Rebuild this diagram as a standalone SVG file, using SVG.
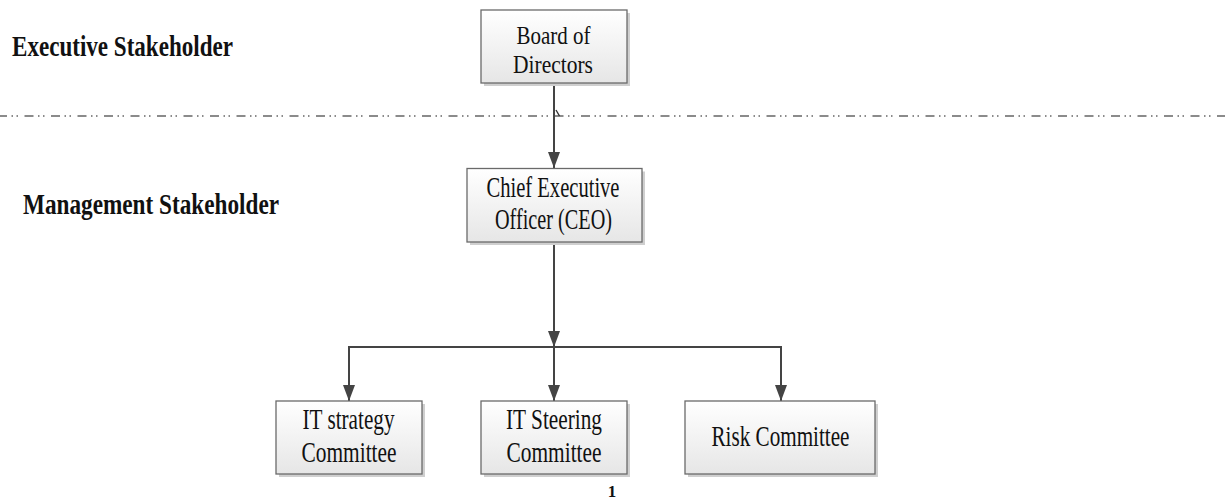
<svg xmlns="http://www.w3.org/2000/svg" width="1225" height="500" viewBox="0 0 1225 500">
<defs>
<linearGradient id="boxfill" x1="0" y1="0" x2="0" y2="1">
<stop offset="0" stop-color="#ffffff"/>
<stop offset="1" stop-color="#e6e6e6"/>
</linearGradient>
<marker id="arrow" viewBox="0 0 16 12" refX="16" refY="6" markerWidth="16" markerHeight="12" markerUnits="userSpaceOnUse" orient="auto">
<path d="M0,0 L16,6 L0,12 Z" fill="#444444"/>
</marker>
</defs>
<style>
.box{fill:url(#boxfill);stroke:#6a6a6a;stroke-width:1.3}
.shadow{fill:#cfcfcf}
.lbl{font-family:"Liberation Serif","Times New Roman",serif;font-size:29px;fill:#111;text-anchor:start}
.head{font-family:"Liberation Serif","Times New Roman",serif;font-size:29px;font-weight:bold;fill:#111}
.conn{stroke:#444444;stroke-width:2;fill:none}
</style>
<rect width="1225" height="500" fill="#ffffff"/>

<line x1="0" y1="116" x2="1225" y2="116" stroke="#666666" stroke-width="1.6" stroke-dasharray="9 4.5 1.5 3.5 1.5 6.5" stroke-dashoffset="2"/>
<line x1="556" y1="110" x2="559.5" y2="116" stroke="#333333" stroke-width="1.4"/>

<text class="head" x="12" y="56" textLength="221" lengthAdjust="spacingAndGlyphs">Executive Stakeholder</text>
<text class="head" x="23" y="214" textLength="256" lengthAdjust="spacingAndGlyphs">Management Stakeholder</text>

<g id="connectors">
<line class="conn" x1="554" y1="83" x2="554" y2="168" marker-end="url(#arrow)"/>
<line class="conn" x1="554" y1="242" x2="554" y2="347" marker-end="url(#arrow)"/>
<polyline class="conn" points="349,401 349,347 781,347 781,401"/>
<line class="conn" x1="349" y1="347" x2="349" y2="401" marker-end="url(#arrow)"/>
<line class="conn" x1="554" y1="347" x2="554" y2="401" marker-end="url(#arrow)"/>
<line class="conn" x1="781" y1="347" x2="781" y2="401" marker-end="url(#arrow)"/>
</g>

<g id="board">
<rect class="shadow" x="484" y="13" width="146" height="73"/>
<rect class="box" x="481" y="10" width="146" height="73"/>
<text class="lbl" x="516.5" y="43.5" textLength="74" lengthAdjust="spacingAndGlyphs" style="font-size:26px">Board of</text>
<text class="lbl" x="513" y="72.5" textLength="80" lengthAdjust="spacingAndGlyphs" style="font-size:26px">Directors</text>
</g>

<g id="ceo">
<rect class="shadow" x="470" y="171.5" width="175" height="73.5"/>
<rect class="box" x="467" y="168.5" width="175" height="73.5"/>
<text class="lbl" x="486.5" y="197" textLength="133" lengthAdjust="spacingAndGlyphs">Chief Executive</text>
<text class="lbl" x="495" y="229" textLength="117" lengthAdjust="spacingAndGlyphs">Officer (CEO)</text>
</g>

<g id="it-strategy">
<rect class="shadow" x="279" y="404" width="146" height="73"/>
<rect class="box" x="276" y="401" width="146" height="73"/>
<text class="lbl" x="302.5" y="429" textLength="92" lengthAdjust="spacingAndGlyphs">IT strategy</text>
<text class="lbl" x="301.5" y="462" textLength="95" lengthAdjust="spacingAndGlyphs">Committee</text>
</g>

<g id="it-steering">
<rect class="shadow" x="484" y="404" width="146" height="73"/>
<rect class="box" x="481" y="401" width="146" height="73"/>
<text class="lbl" x="506" y="429" textLength="96" lengthAdjust="spacingAndGlyphs">IT Steering</text>
<text class="lbl" x="506.5" y="462" textLength="95" lengthAdjust="spacingAndGlyphs">Committee</text>
</g>

<g id="risk">
<rect class="shadow" x="688" y="404" width="190" height="73"/>
<rect class="box" x="685" y="401" width="190" height="73"/>
<text class="lbl" x="711.5" y="446" textLength="138" lengthAdjust="spacingAndGlyphs">Risk Committee</text>
</g>

<text x="612" y="497" font-family="Liberation Serif, Times New Roman, serif" font-size="17" font-weight="bold" fill="#111" text-anchor="middle">1</text>
</svg>
